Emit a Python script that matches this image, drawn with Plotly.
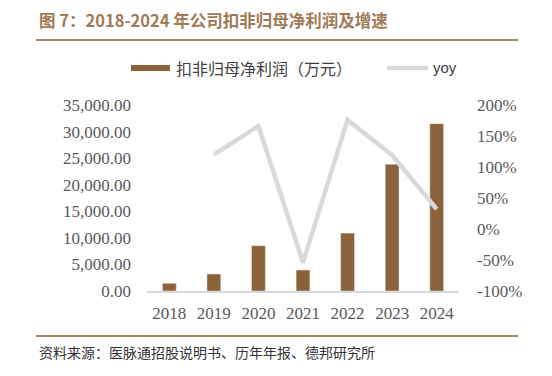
import plotly.graph_objects as go

years = ["2018", "2019", "2020", "2021", "2022", "2023", "2024"]
profit = [1450, 3200, 8520, 3950, 10900, 23840, 31480]
yoy = [None, 1.20, 1.66, -0.54, 1.76, 1.19, 0.32]

left_ticks = [0, 5000, 10000, 15000, 20000, 25000, 30000, 35000]
left_labels = ["0.00", "5,000.00", "10,000.00", "15,000.00", "20,000.00", "25,000.00", "30,000.00", "35,000.00"]
right_ticks = [-1.0, -0.5, 0.0, 0.5, 1.0, 1.5, 2.0]
right_labels = ["-100%", "-50%", "0%", "50%", "100%", "150%", "200%"]

# page has an 8px body margin; work in window pixel coordinates and shift
OFF = 8
W, H = 552 - OFF, 376 - OFF
L, R, T, B = 147, 459, 105, 291

def px(x):
    return (x - L) / (R - L)

def py(y):
    return (B - y) / (B - T)

BAR = "#8B6239"
LINE = "#D9D9D9"
BROWN = "#A07A55"
TICK = "#595959"
serif = "Liberation Serif, Times New Roman, serif"
cjk = "Noto Sans CJK SC, sans-serif"

fig = go.Figure()
fig.add_trace(go.Bar(x=years, y=profit, marker_color=BAR, name="扣非归母净利润（万元）", yaxis="y"))
fig.add_trace(go.Scatter(x=years, y=yoy, mode="lines", line=dict(color=LINE, width=4.5),
                         name="yoy", yaxis="y2", connectgaps=False))

fig.update_layout(
    width=W, height=H,
    margin=dict(l=L - OFF, r=552 - R, t=T - OFF, b=376 - B, pad=0),
    paper_bgcolor="white", plot_bgcolor="white",
    showlegend=False,
    bargap=0.69,
    xaxis=dict(showgrid=False, showline=True, linecolor=LINE, linewidth=1.5,
               tickfont=dict(family=serif, size=17, color=TICK), ticks="",
               ticklabelstandoff=6),
    yaxis=dict(range=[0, 35000], tickvals=left_ticks, ticktext=left_labels,
               showgrid=False, zeroline=False, showline=False, ticks="",
               tickfont=dict(family=serif, size=17, color=TICK), ticklabelstandoff=15),
    yaxis2=dict(range=[-1.0, 2.0], tickvals=right_ticks, ticktext=right_labels,
                overlaying="y", side="right", showgrid=False, zeroline=False,
                showline=False, ticks="",
                tickfont=dict(family=serif, size=17, color=TICK), ticklabelstandoff=17),
)

shapes = [
    dict(type="line", xref="paper", yref="paper", x0=px(36), x1=px(518), y0=py(40), y1=py(40),
         line=dict(color="#A8865F", width=2)),
    dict(type="line", xref="paper", yref="paper", x0=px(36), x1=px(518), y0=py(336), y1=py(336),
         line=dict(color="#A8865F", width=2)),
    dict(type="rect", xref="paper", yref="paper", x0=px(131), x1=px(170), y0=py(71), y1=py(65),
         fillcolor=BAR, line=dict(width=0)),
    dict(type="line", xref="paper", yref="paper", x0=px(387), x1=px(428), y0=py(68), y1=py(68),
         line=dict(color=LINE, width=4.5)),
]
fig.update_layout(shapes=shapes)

annotations = [
    dict(text="<b>图 7：2018-2024 年公司扣非归母净利润及增速</b>", xref="paper", yref="paper",
         x=px(37), y=py(20), xanchor="left", yanchor="middle", showarrow=False,
         font=dict(family=cjk, size=16.5, color=BROWN)),
    dict(text="扣非归母净利润（万元）", xref="paper", yref="paper",
         x=px(174), y=py(68), xanchor="left", yanchor="middle", showarrow=False,
         font=dict(family=cjk, size=16, color="#404040")),
    dict(text="yoy", xref="paper", yref="paper",
         x=px(431), y=py(68), xanchor="left", yanchor="middle", showarrow=False,
         font=dict(family="Liberation Sans, Arial, sans-serif", size=15, color="#404040")),
    dict(text="资料来源：医脉通招股说明书、历年年报、德邦研究所", xref="paper", yref="paper",
         x=px(37), y=py(352), xanchor="left", yanchor="middle", showarrow=False,
         font=dict(family=cjk, size=14, color="#333333")),
]
fig.update_layout(annotations=annotations)

fig.write_html("out.html")
